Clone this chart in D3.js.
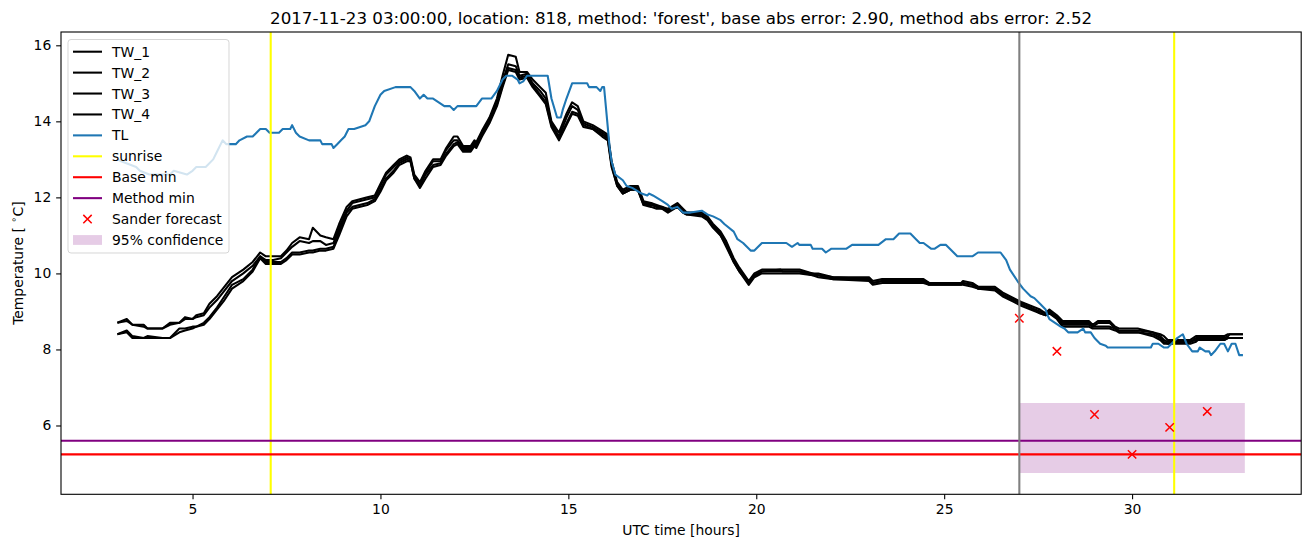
<!DOCTYPE html>
<html><head><meta charset="utf-8">
<script src="https://cdn.jsdelivr.net/npm/d3@7"></script>
<style>body{margin:0;background:#fff} text{font-family:"DejaVu Sans",sans-serif;fill:#000}</style>
</head><body><svg id="c" width="1311" height="547"></svg>
<script>
const titleText = "2017-11-23 03:00:00, location: 818, method: 'forest', base abs error: 2.90, method abs error: 2.52";
const xTicks = [5, 10, 15, 20, 25, 30];
const yTicks = [6, 8, 10, 12, 14, 16];

const twTime = [3.0,3.25,3.4,3.7,3.8,4.2,4.4,4.65,4.8,5.0,5.1,5.3,5.45,5.65,5.85,6.05,6.35,6.6,6.8,6.95,7.15,7.35,7.5,7.65,7.85,8.1,8.2,8.4,8.55,8.75,8.9,9.1,9.25,9.65,9.85,10.0,10.15,10.35,10.5,10.7,10.8,10.9,11.05,11.2,11.4,11.6,11.75,11.95,12.05,12.2,12.4,12.5,12.55,12.7,12.9,13.1,13.25,13.4,13.6,13.7,13.9,14.05,14.25,14.4,14.55,14.75,14.95,15.1,15.25,15.4,15.65,15.9,16.05,16.15,16.3,16.45,16.65,16.85,17.0,17.2,17.35,17.5,17.65,17.9,18.05,18.15,18.55,18.7,18.85,19.05,19.2,19.4,19.55,19.8,19.95,20.15,20.65,20.7,21.15,21.5,21.65,22.05,23.0,23.1,23.35,24.45,24.6,25.45,25.5,25.75,25.9,26.35,26.55,26.85,27.05,27.3,27.55,27.7,27.8,28.0,28.15,28.85,28.95,29.1,29.4,29.55,29.65,30.15,30.55,30.75,30.85,30.95,31.05,31.55,31.7,31.75,32.05,32.15,32.45,32.55,32.6,32.95];

const tw1 = [8.7,8.8,8.65,8.65,8.55,8.55,8.7,8.7,8.85,8.8,8.9,8.95,9.2,9.4,9.65,9.9,10.1,10.3,10.55,10.45,10.45,10.45,10.6,10.8,10.95,10.9,11.2,11.0,10.95,10.9,11.3,11.75,11.9,12.0,12.05,12.35,12.65,12.85,13.0,13.1,13.05,12.6,12.4,12.7,13.0,13.0,13.3,13.6,13.6,13.35,13.35,13.5,13.45,13.75,14.1,14.6,15.2,15.75,15.7,15.3,15.3,15.1,14.9,14.75,14.0,13.7,14.2,14.5,14.4,14.0,13.9,13.75,13.65,12.95,12.4,12.2,12.3,12.3,11.9,11.85,11.8,11.75,11.7,11.85,11.7,11.6,11.6,11.5,11.3,11.1,10.85,10.4,10.15,9.8,10.0,10.1,10.1,10.1,10.1,10.0,10.0,9.9,9.9,9.8,9.85,9.85,9.75,9.75,9.8,9.75,9.65,9.65,9.5,9.35,9.25,9.15,9.05,8.95,9.05,8.9,8.75,8.75,8.65,8.75,8.75,8.6,8.55,8.55,8.45,8.4,8.35,8.25,8.25,8.25,8.35,8.35,8.35,8.35,8.35,8.4,8.4,8.4];

const tw2 = [8.7,8.75,8.65,8.6,8.55,8.55,8.65,8.7,8.8,8.8,8.85,8.9,9.1,9.3,9.55,9.8,10.0,10.2,10.45,10.35,10.35,10.4,10.55,10.7,10.85,10.8,10.85,10.85,10.75,10.8,11.2,11.65,11.85,11.95,12.0,12.3,12.6,12.8,12.95,13.05,13.0,12.55,12.35,12.65,12.95,12.95,13.25,13.5,13.5,13.3,13.3,13.45,13.4,13.7,14.05,14.5,15.05,15.5,15.45,15.2,15.25,15.0,14.8,14.6,13.95,13.6,14.1,14.4,14.3,13.95,13.85,13.7,13.6,12.9,12.35,12.15,12.25,12.25,11.85,11.85,11.75,11.75,11.65,11.8,11.65,11.6,11.55,11.45,11.25,11.05,10.8,10.35,10.1,9.75,9.95,10.05,10.1,10.05,10.05,10.0,9.95,9.9,9.85,9.75,9.8,9.8,9.75,9.75,9.75,9.7,9.65,9.6,9.45,9.3,9.2,9.1,9.0,8.95,8.95,8.85,8.7,8.7,8.6,8.7,8.7,8.55,8.5,8.5,8.45,8.35,8.25,8.2,8.2,8.2,8.3,8.3,8.3,8.3,8.3,8.35,8.4,8.4];

const tw3 = [8.4,8.5,8.35,8.3,8.35,8.3,8.3,8.55,8.55,8.6,8.6,8.7,8.85,9.1,9.4,9.7,9.85,10.1,10.45,10.3,10.3,10.3,10.4,10.55,10.55,10.6,10.6,10.65,10.65,10.7,11.1,11.6,11.75,11.85,11.95,12.2,12.5,12.7,12.9,13.0,12.95,12.5,12.3,12.6,12.85,12.9,13.15,13.4,13.45,13.25,13.25,13.4,13.35,13.65,14.0,14.45,14.95,15.4,15.35,15.15,15.2,14.95,14.7,14.5,13.9,13.55,13.95,14.25,14.2,13.9,13.8,13.65,13.55,12.85,12.3,12.1,12.2,12.2,11.8,11.8,11.75,11.7,11.65,11.75,11.6,11.55,11.55,11.45,11.25,11.0,10.75,10.3,10.05,9.75,9.95,10.05,10.05,10.05,10.05,9.95,9.95,9.85,9.85,9.75,9.8,9.8,9.7,9.7,9.75,9.7,9.6,9.6,9.45,9.3,9.2,9.1,8.95,8.9,9.0,8.85,8.65,8.65,8.6,8.6,8.6,8.55,8.45,8.45,8.4,8.3,8.2,8.15,8.2,8.2,8.25,8.25,8.25,8.25,8.25,8.3,8.3,8.3];

const tw4 = [8.4,8.45,8.3,8.3,8.3,8.3,8.3,8.45,8.5,8.55,8.6,8.65,8.8,9.05,9.3,9.6,9.8,10.05,10.4,10.25,10.25,10.25,10.35,10.5,10.5,10.55,10.55,10.6,10.6,10.65,11.0,11.5,11.7,11.8,11.9,12.15,12.45,12.65,12.85,12.95,12.95,12.5,12.25,12.5,12.8,12.85,13.1,13.35,13.4,13.2,13.2,13.35,13.3,13.6,13.95,14.4,14.9,15.35,15.3,15.1,15.15,14.9,14.65,14.45,13.85,13.5,13.9,14.2,14.15,13.85,13.8,13.6,13.5,12.8,12.3,12.1,12.2,12.2,11.8,11.75,11.7,11.7,11.6,11.75,11.6,11.55,11.5,11.4,11.2,11.0,10.7,10.3,10.05,9.7,9.9,10.0,10.0,10.0,10.0,9.95,9.9,9.85,9.8,9.7,9.75,9.75,9.7,9.7,9.7,9.65,9.6,9.55,9.4,9.25,9.15,9.05,8.95,8.9,8.95,8.8,8.6,8.6,8.55,8.55,8.55,8.5,8.45,8.45,8.35,8.25,8.15,8.15,8.15,8.15,8.2,8.25,8.25,8.25,8.25,8.3,8.3,8.3];

const tlTime = [3.0,3.1,3.5,3.6,3.85,4.4,4.5,4.85,5.0,5.1,5.35,5.55,5.65,5.8,5.9,6.15,6.25,6.45,6.6,6.8,6.95,7.05,7.3,7.4,7.6,7.65,7.75,7.85,8.1,8.4,8.45,8.7,8.75,8.85,8.95,9.05,9.15,9.3,9.6,9.7,9.85,10.0,10.1,10.4,10.8,10.9,11.05,11.15,11.25,11.4,11.55,11.7,11.85,11.95,12.05,12.55,12.7,12.95,13.1,13.25,13.35,13.5,13.65,13.7,13.8,13.9,14.05,14.45,14.55,14.7,14.8,14.85,14.95,15.1,15.5,15.55,15.75,15.85,15.9,15.95,16.1,16.15,16.25,16.45,16.55,16.7,16.95,17.1,17.15,17.25,17.5,17.65,17.75,17.9,18.05,18.25,18.55,18.7,18.85,19.05,19.15,19.4,19.5,19.65,19.85,19.95,20.15,20.8,20.95,21.1,21.15,21.45,21.5,21.75,21.85,22.0,22.4,22.55,23.25,23.45,23.65,23.8,24.1,24.25,24.35,24.45,24.65,24.75,24.9,25.05,25.15,25.35,25.75,25.9,26.5,26.65,26.75,26.95,27.1,27.3,27.4,27.55,27.7,27.75,27.8,27.95,28.1,28.2,28.3,28.55,28.7,28.75,28.9,29.0,29.15,29.3,29.35,30.5,30.55,30.7,30.85,30.95,31.05,31.2,31.35,31.45,31.6,31.75,31.8,31.95,32.05,32.1,32.2,32.35,32.45,32.55,32.65,32.75,32.85,32.95];
const tlValues = [13.0,12.95,12.8,12.7,12.6,12.6,12.7,12.6,12.7,12.8,12.8,13.0,13.2,13.5,13.4,13.4,13.5,13.6,13.6,13.8,13.8,13.7,13.7,13.8,13.8,13.9,13.7,13.6,13.5,13.5,13.4,13.4,13.3,13.4,13.5,13.6,13.8,13.8,13.9,14.0,14.4,14.7,14.8,14.9,14.9,14.8,14.6,14.7,14.6,14.6,14.5,14.4,14.4,14.3,14.4,14.4,14.6,14.6,14.8,15.1,15.2,15.2,15.1,15.0,15.05,15.2,15.2,15.2,14.6,14.1,14.1,14.3,14.6,15.0,15.0,14.9,14.9,14.8,14.9,14.9,13.3,12.95,12.6,12.45,12.3,12.25,12.1,12.05,12.1,12.05,11.9,11.8,11.7,11.75,11.6,11.6,11.65,11.55,11.5,11.4,11.3,11.1,10.9,10.8,10.6,10.6,10.8,10.8,10.7,10.8,10.75,10.75,10.65,10.65,10.55,10.65,10.65,10.75,10.75,10.9,10.9,11.05,11.05,10.9,10.8,10.8,10.65,10.65,10.75,10.75,10.65,10.45,10.45,10.55,10.55,10.35,10.1,9.8,9.6,9.4,9.35,9.2,9.05,8.9,8.8,8.7,8.6,8.55,8.45,8.45,8.55,8.45,8.45,8.3,8.15,8.1,8.05,8.05,8.15,8.15,8.05,8.05,8.15,8.3,8.4,8.15,7.95,7.95,8.05,7.95,7.95,7.85,7.95,8.15,8.15,7.95,8.15,8.15,7.85,7.85];

const sunriseHours = [7.08, 31.12];
const forecastMark = 27;
const baseMin = 5.24;
const methodMin = 5.6;
const forecastHours = [27, 28, 29, 30, 31, 32];
const forecastValues = [8.82, 7.95, 6.29, 5.24, 5.95, 6.37];
const confHours = [27, 33];
const confLower = [4.75, 4.75];
const confUpper = [6.59, 6.59];

const legendLabels = ["TW_1","TW_2","TW_3","TW_4","TL","sunrise","Base min","Method min","Sander forecast","95% confidence"];

const FS = 13.9;
const svg = d3.select("#c");
const L = 61, R = 1301.2, T = 32, B = 494.3;
const x = d3.scaleLinear().domain([1.5, 34.5]).range([L, R]);
const y = d3.scaleLinear().domain([4.19, 16.35]).range([B, T]);

svg.append("defs").append("clipPath").attr("id","clip").append("rect")
  .attr("x", L).attr("y", T).attr("width", R-L).attr("height", B-T);
const g = svg.append("g").attr("clip-path","url(#clip)");

const area = d3.area().x(d=>x(d[0])).y0(d=>y(d[1])).y1(d=>y(d[2]));
g.append("path").datum(confHours.map((h,i)=>[h, confLower[i], confUpper[i]]))
  .attr("d", area).attr("fill","purple").attr("fill-opacity",0.2);

const line = d3.line().x(d=>x(d[0])).y(d=>y(d[1]));
[tw1, tw2, tw3, tw4].forEach(vals=>{
  g.append("path").datum(twTime.map((t,i)=>[t, vals[i]]))
   .attr("d", line).attr("fill","none").attr("stroke","#000").attr("stroke-width",2.08).attr("stroke-linejoin","round");
});
g.append("path").datum(tlTime.map((t,i)=>[t, tlValues[i]]))
  .attr("d", line).attr("fill","none").attr("stroke","#1f77b4").attr("stroke-width",2.08).attr("stroke-linejoin","round");

sunriseHours.forEach(h=>{
  g.append("line").attr("x1",x(h)).attr("x2",x(h)).attr("y1",T).attr("y2",B)
   .attr("stroke","yellow").attr("stroke-width",2.08);
});
g.append("line").attr("x1",L).attr("x2",R).attr("y1",y(baseMin)).attr("y2",y(baseMin)).attr("stroke","red").attr("stroke-width",2.08);
g.append("line").attr("x1",L).attr("x2",R).attr("y1",y(methodMin)).attr("y2",y(methodMin)).attr("stroke","purple").attr("stroke-width",2.08);

const xm = 4.2;
forecastHours.forEach((h,i)=>{
  const cx = x(h), cy = y(forecastValues[i]);
  g.append("path").attr("d",`M${cx-xm},${cy-xm}L${cx+xm},${cy+xm}M${cx-xm},${cy+xm}L${cx+xm},${cy-xm}`)
   .attr("stroke","red").attr("stroke-width",1.5).attr("fill","none");
});
g.append("line").attr("x1",x(forecastMark)).attr("x2",x(forecastMark)).attr("y1",T).attr("y2",B)
  .attr("stroke","gray").attr("stroke-width",2.08);

const xAxis = svg.append("g").attr("transform",`translate(0,${B})`)
  .call(d3.axisBottom(x).tickValues(xTicks).tickSize(4.86).tickPadding(4.86).tickSizeOuter(0));
const yAxis = svg.append("g").attr("transform",`translate(${L},0)`)
  .call(d3.axisLeft(y).tickValues(yTicks).tickSize(4.86).tickPadding(4.86).tickSizeOuter(0));
[xAxis, yAxis].forEach(a=>{
  a.select(".domain").remove();
  a.selectAll("text").attr("font-size",FS+"px").attr("font-family","DejaVu Sans").attr("fill","#000");
  a.selectAll("line").attr("stroke","#000").attr("stroke-width",1.1);
});
svg.append("rect").attr("x",L).attr("y",T).attr("width",R-L).attr("height",B-T)
  .attr("fill","none").attr("stroke","#000").attr("stroke-width",1.1);

svg.append("text").attr("x",(L+R)/2).attr("y",23.5).attr("text-anchor","middle")
  .attr("font-size","16.7px").text(titleText);
svg.append("text").attr("x",(L+R)/2).attr("y",534.5).attr("text-anchor","middle")
  .attr("font-size",FS+"px").text("UTC time [hours]");
const yl = svg.append("text").attr("transform",`translate(22.5,${(T+B)/2}) rotate(-90)`)
  .attr("text-anchor","middle").attr("font-size",FS+"px");
yl.append("tspan").text("Temperature [ ");
yl.append("tspan").attr("font-size","9.7px").attr("dy","-5.5").text("∘");
yl.append("tspan").attr("dy","5.5").text("C]");

const lg = svg.append("g");
lg.append("rect").attr("x",68).attr("y",39.5).attr("width",161).attr("height",213.5).attr("rx",3)
  .attr("fill","white").attr("fill-opacity",0.8).attr("stroke","#ccc").attr("stroke-opacity",0.8).attr("stroke-width",1);
const legendColors = ["#000","#000","#000","#000","#1f77b4","yellow","red","purple",null,null];
legendLabels.forEach((lab,i)=>{
  const cy = 51.7 + i*20.92;
  if (i < 8) {
    lg.append("line").attr("x1",73).attr("x2",102).attr("y1",cy).attr("y2",cy)
      .attr("stroke",legendColors[i]).attr("stroke-width",2.08);
  } else if (i === 8) {
    const cx = 87.5;
    lg.append("path").attr("d",`M${cx-xm},${cy-xm}L${cx+xm},${cy+xm}M${cx-xm},${cy+xm}L${cx+xm},${cy-xm}`)
      .attr("stroke","red").attr("stroke-width",1.5);
  } else {
    lg.append("rect").attr("x",73).attr("y",cy-4.9).attr("width",29).attr("height",9.8)
      .attr("fill","purple").attr("fill-opacity",0.2);
  }
  lg.append("text").attr("x",112).attr("y",cy).attr("dy","0.36em").attr("font-size",FS+"px").text(lab);
});
</script></body></html>
